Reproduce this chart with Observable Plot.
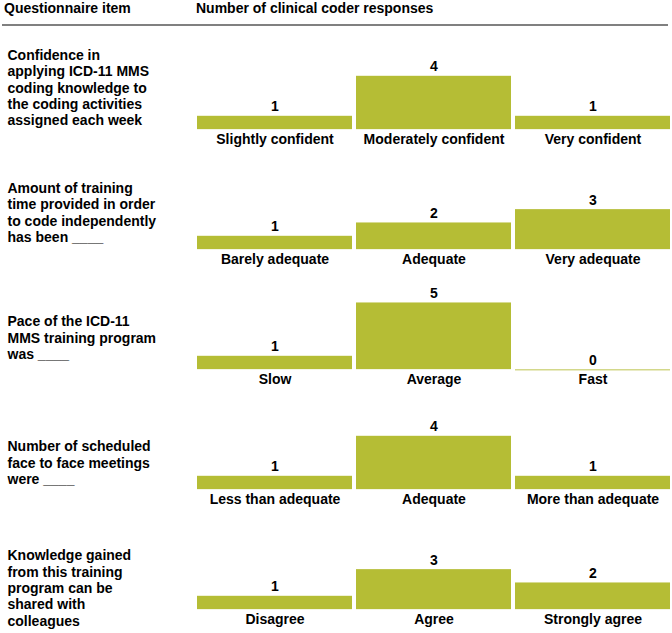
<!DOCTYPE html>
<html>
<head>
<meta charset="utf-8">
<script src="https://cdn.jsdelivr.net/npm/d3@7"></script>
<script src="https://cdn.jsdelivr.net/npm/@observablehq/plot@0.6"></script>
<style>
  html, body { margin: 0; padding: 0; background: #fff; }
  #wrap { width: 672px; font-family: "Liberation Sans", Arial, sans-serif; }
  #header { position: relative; width: 672px; height: 24px; }
  #header span { position: absolute; top: 0; line-height: 16px; font-size: 14px; font-weight: bold; color: #000; white-space: nowrap; }
  #rule { width: 666px; margin-left: 2px; height: 0; border-top: 2px solid #808080; }
  svg { display: block; }
</style>
</head>
<body>
<div id="wrap">
  <div id="header">
    <span id="h1" style="left:4px"></span>
    <span id="h2" style="left:196px"></span>
  </div>
  <div id="rule"></div>
  <div id="chart"></div>
</div>
<script>
const headers = ["Questionnaire item", "Number of clinical coder responses"];

const questions = [
  "Confidence in\napplying ICD-11 MMS\ncoding knowledge to\nthe coding activities\nassigned each week",
  "Amount of training\ntime provided in order\nto code independently\nhas been ____",
  "Pace of the ICD-11\nMMS training program\nwas ____",
  "Number of scheduled\nface to face meetings\nwere ____",
  "Knowledge gained\nfrom this training\nprogram can be\nshared with\ncolleagues"
];

const responseOptions = [
  ["Slightly confident", "Moderately confident", "Very confident"],
  ["Barely adequate", "Adequate", "Very adequate"],
  ["Slow", "Average", "Fast"],
  ["Less than adequate", "Adequate", "More than adequate"],
  ["Disagree", "Agree", "Strongly agree"]
];

const responseCounts = [
  [1, 4, 1],
  [1, 2, 3],
  [1, 5, 0],
  [1, 4, 1],
  [1, 3, 2]
];

const slots = [0, 1, 2];

document.getElementById("h1").textContent = headers[0];
document.getElementById("h2").textContent = headers[1];

const rows = questions.flatMap((q, i) =>
  slots.map(j => ({question: q, slot: j, response: responseOptions[i][j], count: responseCounts[i][j]}))
);

const barColor = "#b5bd35";
const font = "'Liberation Sans', Arial, sans-serif";

// the question column's rows are spaced slightly wider than the bar rows
const labelMarks = questions.map((q, i) =>
  Plot.text([q], {fy: d => d, text: d => d, frameAnchor: "left", textAnchor: "start",
    dx: -189, dy: 8 + (i - 2) * 5.1, lineHeight: 1.17, fontSize: 14, fontWeight: "bold", fill: "#000"})
);

const chart = Plot.plot({
  width: 672,
  height: 607,
  marginTop: 1,
  marginBottom: 3,
  marginLeft: 196,
  marginRight: 2,
  style: {fontFamily: font, fontSize: "14px", fontWeight: "bold", color: "#000", background: "#fff"},
  x: {type: "band", domain: slots, paddingInner: 0.028, paddingOuter: 0, axis: null},
  y: {domain: [-1.49, 7.51], axis: null},
  fy: {domain: questions, padding: 0, axis: null},
  facet: {marginTop: 0, marginRight: 0, marginBottom: 0, marginLeft: 0},
  marks: [
    Plot.barY(rows, {x: "slot", y: "count", fy: "question", fill: barColor, inset: 0}),
    Plot.tickY(rows.filter(d => d.count === 0), {x: "slot", y: "count", fy: "question", stroke: "#d3d88a", strokeWidth: 1.5}),
    Plot.text(rows, {x: "slot", y: "count", fy: "question", text: d => String(d.count), dy: -9.5, fontSize: 14, fontWeight: "bold", fill: "#000"}),
    Plot.text(rows, {x: "slot", y: () => 0, fy: "question", text: "response", dy: 10, fontSize: 14, fontWeight: "bold", fill: "#000"}),
    ...labelMarks
  ]
});
document.getElementById("chart").appendChild(chart);
</script>
</body>
</html>
